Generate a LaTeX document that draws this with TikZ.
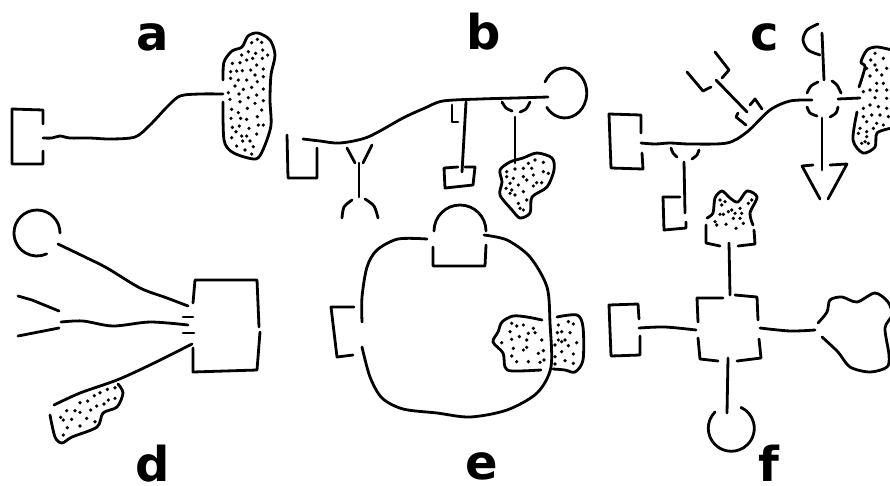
\documentclass[tikz,border=0pt]{standalone}
\usepackage{fontspec}
\setmainfont{DejaVu Sans}

\tikzset{
    sketch/.style={line width=2.8pt, line cap=round, line join=round},
    panel/.style={font=\fontsize{48}{48}\selectfont\bfseries, anchor=base, inner sep=0pt},
}

\begin{document}
\begin{tikzpicture}[x=1pt, y=-1pt, sketch]
    \useasboundingbox (0,0) rectangle (890,485);

    % a
    \node[panel] (labela) at (153,50) {a};
    \draw (43,124) -- (43,110) -- (12,109) -- (12,164) -- (43,164) -- (43,151);
    \draw plot[smooth] coordinates {(43,138) (52,138) (60,136) (70,138) (90,138) (110,139) (135,137) (150,125) (167,107) (180,96) (200,94) (223,94)};
    \draw plot[smooth] coordinates {(223,80) (224,62) (232,51) (242,47) (248,36) (258,33) (270,40) (275,55) (271,75) (270,100) (271,125) (265,145) (258,158) (248,158) (232,152) (224,140) (223,102)};
    \begin{scope}[scale=1/3]
        \foreach \x/\y in {755/128,772/118,785/127,788/150,803/165,767/160,745/155,725/165,740/180,758/175,787/175,720/188,697/190,770/195,692/215,710/213,727/212,752/210,790/207,692/235,715/240,740/240,765/225,790/230,772/245,705/258,730/268,755/262,790/267,685/278,717/282,770/285,690/298,720/305,745/293,790/302,765/310,695/328,742/325,785/330,715/338,693/355,722/355,740/358,772/350,697/382,718/378,747/385,775/375,790/375,708/395,770/402,725/408,740/408,695/413,728/423,750/423,710/438,735/450,760/440,755/462}
            \fill (\x,\y) circle (5.5);
    \end{scope}

    % b
    \node[panel] (labelb) at (484,49) {b};
    \draw (287,135) -- (288,178) -- (317,178) -- (317,148);
    \draw plot[smooth] coordinates {(303,139) (320,141) (340,143) (368,137) (403,118) (425,108) (443,101) (480,99) (515,98) (548,97)};
    \draw (545,82) arc (206:505:22 and 25);
    \draw (347,148) -- (355,163);
    \draw (372,145) -- (363,163);
    \draw (359,163) -- (359,197);
    \draw plot[smooth] coordinates {(342,218) (344,207) (352,200)};
    \draw plot[smooth] coordinates {(365,199) (374,206) (378,218)};
    \draw (452,105) -- (452,122) -- (458,122);
    \draw (466,102) -- (462,172);
    \draw (458,167) -- (444,168) -- (445,188) -- (473,185) -- (475,167) -- (465,167);
    \draw plot[smooth] coordinates {(502,102) (506,108) (512,111)};
    \draw plot[smooth] coordinates {(530,102) (526,109) (520,112)};
    \draw (515,117) -- (515,163);
    \draw plot[smooth cycle] coordinates {(500,170) (510,162) (523,158) (537,153) (552,158) (554,170) (547,187) (532,197) (530,213) (520,218) (512,210) (500,195) (502,182)};
    \begin{scope}[shift={(280,0)}, scale=1/3]
        \foreach \x/\y in {765/480,790/487,745/490,705/507,730/505,755/505,790/515,680/515,805/520,730/530,760/525,680/530,700/535,740/540,770/548,690/550,715/555,760/558,785/548,678/565,695/570,730/575,705/585,690/580,740/600,715/610,720/625,730/630}
            \fill (\x,\y) circle (5.5);
    \end{scope}

    % c
    \node[panel] (labelc) at (765,50) {c};
    \draw (641,133) -- (641,115) -- (609,114) -- (611,168) -- (643,169) -- (642,153);
    \draw plot[smooth] coordinates {(641,143) (655,144) (670,143) (690,144) (727,143) (747,132) (770,110) (790,101) (812,100)};
    \draw plot[smooth] coordinates {(807,93) (811,86) (818,82)};
    \draw plot[smooth] coordinates {(832,81) (837,85) (841,93)};
    \draw plot[smooth] coordinates {(838,107) (836,113) (830,117)};
    \draw plot[smooth] coordinates {(807,107) (810,113) (817,116)};
    \draw plot[smooth] coordinates {(818,24) (807,30) (803,40) (808,50) (820,55)};
    \draw (822,33) -- (824,80);
    \draw (838,99) -- (860,98);
    \draw (822,118) -- (822,170);
    \draw (820,199) -- (802,166) -- (813,165);
    \draw (828,199) -- (847,164) -- (830,165);
    \draw plot[smooth] coordinates {(859,87) (865,67) (861,62) (867,50) (877,47) (892,50)};
    \draw plot[smooth] coordinates {(857,112) (853,140) (863,153) (875,147) (877,133) (892,128)};
    \draw (746,125) -- (736,117) -- (738,113);
    \draw (750,105) -- (755,99) -- (762,109);
    \draw (747,112) -- (716,80);
    \draw (715,52) -- (729,70) -- (722,78);
    \draw (687,72) -- (703,91) -- (711,87);
    \draw plot[smooth] coordinates {(671,148) (673,153) (677,157)};
    \draw plot[smooth] coordinates {(699,150) (697,155) (692,159)};
    \draw (684,162) -- (685,213);
    \draw (680,197) -- (663,197) -- (664,230) -- (686,228) -- (686,222);
    \begin{scope}[shift={(600,0)}, scale=1/3]
        \foreach \x/\y in {825/160,812/180,850/175,825/195,860/205,800/205,830/210,810/228,845/225,830/250,850/250,790/275,810/270,830/272,860/270,825/293,860/295,790/325,810/315,835/320,860/325,790/350,815/345,840/345,865/350,800/365,830/370,850/375,780/385,800/395,820/385,775/400,800/410,795/425,805/430,785/430}
            \fill (\x,\y) circle (5.5);
    \end{scope}

    % d
    \node[panel] (labeld) at (153,481) {d};
    \draw (60,233) arc (0:-295:23);
    \draw plot[smooth] coordinates {(58,244) (85,257) (107,268) (140,288) (167,298) (188,306)};
    \draw (18,296) -- (32,300) -- (59,311);
    \draw (18,336) -- (59,328);
    \draw plot[smooth] coordinates {(61,322) (83,321) (113,326) (150,322) (188,325)};
    \draw (183,317) -- (193,317);
    \draw (183,333) -- (194,333);
    \draw plot[smooth] coordinates {(192,344) (150,365) (117,380) (80,393) (54,405)};
    \draw (193,303) -- (195,280) -- (257,280) -- (259,327);
    \draw (260,332) -- (257,370) -- (193,372) -- (193,348);
    \draw plot[smooth] coordinates {(50,415) (55,437) (62,443) (72,437) (97,427) (103,413) (117,407) (123,393) (118,384)};
    \begin{scope}[shift={(0,200)}, scale=1/3]
        \foreach \x/\y in {345/563,322/568,300/578,283/587,263/603,240/608,345/595,325/600,312/612,290/618,272/630,225/632,240/637,200/632,182/652,190/660,215/658,260/655,285/665,240/678,202/683,190/705}
            \fill (\x,\y) circle (5.5);
    \end{scope}

    % e
    \node[panel] (labele) at (482,479) {e};
    \draw plot[smooth] coordinates {(427,239) (398,239) (377,250) (367,267) (362,297) (362,322)};
    \draw plot[smooth] coordinates {(484,235) (507,240) (530,257) (547,287) (550,323) (551,367) (537,393) (507,410) (470,417) (437,413) (403,409) (382,398) (370,377) (362,347)};
    \draw (434,231) arc (180:360:26);
    \draw (433,247) -- (433,266) -- (485,266) -- (486,245);
    \draw (354,307) -- (331,307) -- (337,357) -- (353,355);
    \draw plot[smooth] coordinates {(542,320) (527,317) (513,316) (502,322) (498,332) (493,342) (503,353) (505,367) (512,371) (541,370)};
    \draw plot[smooth] coordinates {(557,317) (577,315) (583,327) (583,360) (575,372) (565,370) (553,369)};
    \begin{scope}[shift={(320,200)}, scale=1/3]
        \foreach \x/\y in {575/370,590/378,610/375,640/385,625/400,645/398,570/395,598/410,575/418,545/428,620/420,665/420,580/445,610/450,620/442,575/468,655/460,670/452,590/485,625/485,660/487,672/480,715/375,745/365,760/372,712/398,750/398,725/395,715/420,705/435,725/425,735/420,745/437,770/428,725/455,705/470,760/462,735/482,705/492,760/490}
            \fill (\x,\y) circle (5.5);
    \end{scope}

    % f
    \node[panel] (labelf) at (769,481) {f};
    \draw plot[smooth] coordinates {(707,218) (713,213) (715,198) (722,191) (730,198) (738,202) (747,191) (757,197) (750,213) (753,225)};
    \draw (706,225) -- (706,243) -- (720,246);
    \draw (754,230) -- (755,244) -- (738,246);
    \draw (729,243) -- (730,295);
    \draw (698,322) -- (697,298) -- (723,298);
    \draw (735,295) -- (757,297) -- (758,320);
    \draw (759,339) -- (761,358) -- (737,361);
    \draw (698,338) -- (700,359) -- (718,361);
    \draw (639,319) -- (638,304) -- (609,305) -- (611,356) -- (640,355) -- (640,336);
    \draw plot[smooth] coordinates {(639,328) (665,327) (696,330)};
    \draw plot[smooth] coordinates {(760,328) (790,331) (815,330)};
    \draw plot[smooth] coordinates {(818,323) (827,312) (830,300) (842,297) (857,302) (875,293) (888,302) (892,315) (885,328) (889,355) (887,367) (870,372) (850,367) (838,352) (822,337)};
    \draw (728,358) -- (727,413);
    \draw (715,412) arc (225:-65:23);
    \begin{scope}[shift={(600,185)}, scale=1/3]
        \foreach \x/\y in {360/45,375/50,365/60,395/75,420/70,385/80,360/88,370/88,405/85,425/85,400/100,345/110,350/120,378/118,430/115,408/130,455/45,445/55,420/100}
            \fill (\x,\y) circle (5.5);
    \end{scope}
\end{tikzpicture}
\end{document}
